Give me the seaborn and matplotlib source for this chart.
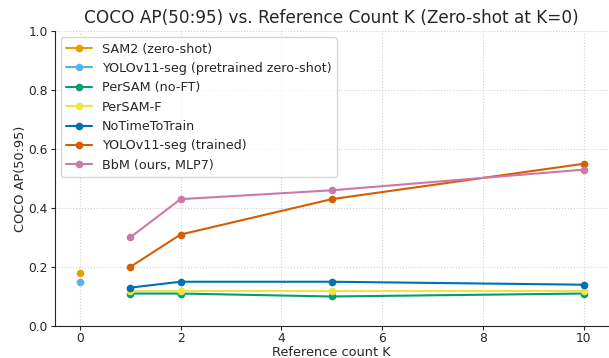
import matplotlib
matplotlib.use("Agg")
import matplotlib.pyplot as plt
import seaborn as sns
import pandas as pd

sns.set_theme(style="ticks", context="notebook", rc={
    "font.size": 9.3, "axes.labelsize": 9.3, "axes.titlesize": 12.2,
    "xtick.labelsize": 8.8, "ytick.labelsize": 8.8, "legend.fontsize": 9.2,
    "xtick.major.size": 3.0, "ytick.major.size": 3.0,
    "xtick.major.pad": 1.2, "ytick.major.pad": 2.0,
    "xtick.major.width": 0.8, "ytick.major.width": 0.8,
    "axes.linewidth": 0.8, "axes.labelpad": 1.0, "axes.titlepad": 6.0,
})
plt.rcParams['font.family'] = ['DejaVu Sans']

K_zero = [0]
sam2_zero = [0.18]
yolo_pre_zero = [0.15]

K = [1, 2, 5, 10]
persam = [0.11, 0.11, 0.10, 0.11]
persam_f = [0.12, 0.12, 0.12, 0.12]
notime = [0.13, 0.15, 0.15, 0.14]
yolo_trained = [0.20, 0.31, 0.43, 0.55]
bbm = [0.30, 0.43, 0.46, 0.53]

names = ["SAM2 (zero-shot)", "YOLOv11-seg (pretrained zero-shot)", "PerSAM (no-FT)",
         "PerSAM-F", "NoTimeToTrain", "YOLOv11-seg (trained)", "BbM (ours, MLP7)"]
colors = ["#E69F00", "#56B4E9", "#009E73", "#F0E442", "#0072B2", "#D55E00", "#CC79A7"]

rows = []
for name, ks, vals in [(names[0], K_zero, sam2_zero), (names[1], K_zero, yolo_pre_zero),
                       (names[2], K, persam), (names[3], K, persam_f), (names[4], K, notime),
                       (names[5], K, yolo_trained), (names[6], K, bbm)]:
    for k, v in zip(ks, vals):
        rows.append({"K": k, "AP": v, "Method": name})
df = pd.DataFrame(rows)

fig = plt.figure(figsize=(6.09, 3.58), dpi=100)
ax = fig.add_axes([0.0895, 0.0894, 0.9105, 0.824])
sns.lineplot(data=df, x="K", y="AP", hue="Method", hue_order=names,
             palette=dict(zip(names, colors)), marker="o", markersize=5.5,
             markeredgewidth=0, linewidth=1.5, ax=ax)

ax.set_ylim(0, 1.0)
ax.set_xlim(-0.5, 10.5)
ax.set_xticks([0, 2, 4, 6, 8, 10])
ax.set_yticks([0.0, 0.2, 0.4, 0.6, 0.8, 1.0])
ax.grid(True, linestyle=":", color="#d0d0d0", linewidth=0.8)
ax.set_title("COCO AP(50:95) vs. Reference Count K (Zero-shot at K=0)", color="#262626")
ax.set_xlabel("Reference count K")
ax.set_ylabel("COCO AP(50:95)")
sns.despine(ax=ax)
leg = ax.legend(loc="upper left", title=None, frameon=True)
fig.savefig("out.png", dpi=100)
